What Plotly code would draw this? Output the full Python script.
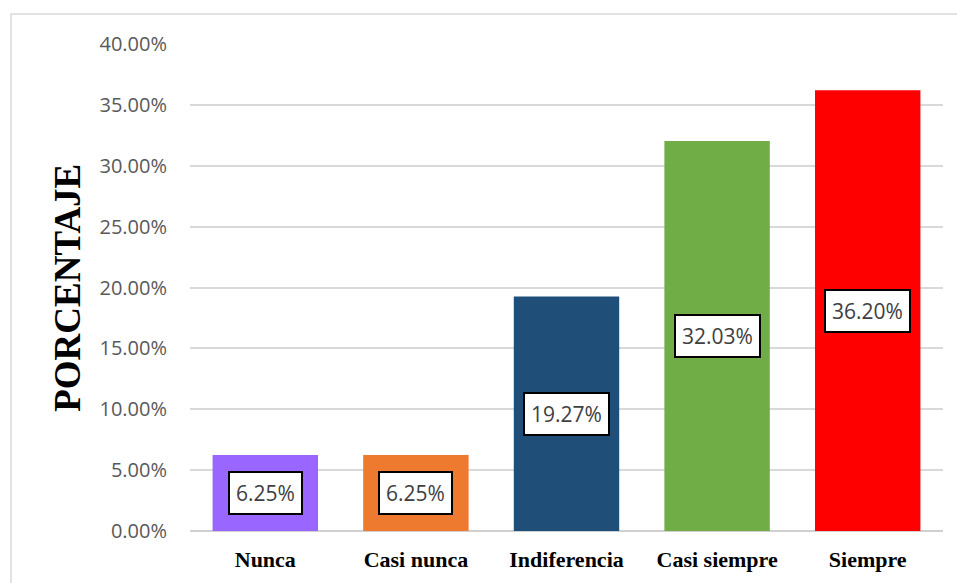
import plotly.graph_objects as go

categories = ["Nunca", "Casi nunca", "Indiferencia", "Casi siempre", "Siempre"]
values = [6.25, 6.25, 19.27, 32.03, 36.20]
colors = ["#9966FF", "#EE7A30", "#1F4E79", "#70AD47", "#FF0000"]
tick_vals = [0, 5, 10, 15, 20, 25, 30, 35, 40]
tick_text = [f"{v:.2f}%" for v in tick_vals]

fig = go.Figure()
fig.add_trace(go.Bar(
    x=categories, y=values, marker=dict(color=colors, line=dict(width=0)),
    width=0.7, hoverinfo="skip",
))

for c, v in zip(categories, values):
    fig.add_annotation(
        x=c, y=v / 2, xref="x", yref="y", text=f"{v:.2f}%", showarrow=False,
        font=dict(family="Open Sans", size=21, color="#404040"),
        bgcolor="white", bordercolor="black", borderwidth=2, borderpad=6,
    )

fig.add_annotation(
    x=-0.163, y=0.5, xref="paper", yref="paper", text="<b>PORCENTAJE</b>",
    textangle=-90, showarrow=False, xanchor="center", yanchor="middle",
    font=dict(family="Liberation Serif", size=37, color="black"),
)

fig.add_shape(type="rect", xref="paper", yref="paper",
              x0=-0.2377, y0=-0.3, x1=1.2, y1=1.0616,
              line=dict(color="#D9D9D9", width=1.5), fillcolor="rgba(0,0,0,0)", layer="below")

fig.update_layout(
    width=957, height=583,
    margin=dict(l=190, r=14, t=44, b=52),
    paper_bgcolor="white", plot_bgcolor="white",
    showlegend=False,
    bargap=0.3,
    xaxis=dict(
        showgrid=False, showline=False, ticks="", automargin=False,
        tickfont=dict(family="Liberation Serif", size=22, color="black"),
        tickprefix="<b>", ticksuffix="</b>",
        ticklabelstandoff=13,
    ),
    yaxis=dict(
        range=[0, 40], tickvals=tick_vals, ticktext=tick_text, automargin=False,
        showgrid=True, gridcolor="#D9D9D9", gridwidth=1.5,
        zeroline=True, zerolinecolor="#D0D0D0", zerolinewidth=2,
        showline=False, ticks="",
        tickfont=dict(family="Open Sans", size=20, color="#595959"),
        ticklabelstandoff=22,
    ),
)

fig.write_html("out.html")
